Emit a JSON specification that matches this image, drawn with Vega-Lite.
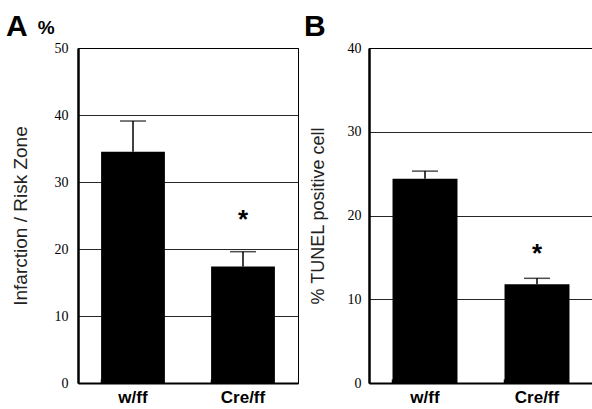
{
  "$schema": "https://vega.github.io/schema/vega-lite/v6.json",
  "background": "white",
  "padding": {"left": 5, "top": 11, "right": 0, "bottom": 0},
  "spacing": 4,
  "config": {
    "view": {"stroke": "black", "strokeWidth": 1},
    "axis": {"labelFont": "Liberation Sans Narrow", "titleFont": "Liberation Sans", "labelColor": "black", "titleColor": "#222"},
    "title": {"font": "Liberation Sans", "fontWeight": "bold", "fontSize": 30, "anchor": "start", "frame": "bounds", "color": "black", "subtitleFont": "Liberation Sans", "subtitleFontWeight": "bold", "subtitleFontSize": 19, "subtitleColor": "black"}
  },
  "datasets": {
    "a": [
      {"group": "w/ff", "value": 34.5, "hi": 39.1},
      {"group": "Cre/ff", "value": 17.4, "hi": 19.6}
    ],
    "b": [
      {"group": "w/ff", "value": 24.4, "hi": 25.3},
      {"group": "Cre/ff", "value": 11.8, "hi": 12.5}
    ],
    "starA": [{"group": "Cre/ff", "y": 25.0, "label": "*"}],
    "starB": [{"group": "Cre/ff", "y": 15.9, "label": "*"}]
  },
  "hconcat": [
    {
      "title": {"text": "A", "subtitle": "\u200b\u00a0\u00a0\u00a0\u00a0\u00a0\u00a0%", "subtitlePadding": -23, "dx": -5, "offset": -1},
      "width": 220,
      "height": 335,
      "data": {"name": "a"},
      "encoding": {
        "x": {"field": "group", "type": "nominal", "sort": ["w/ff", "Cre/ff"],
          "scale": {"paddingInner": 0.42, "paddingOuter": 0.21},
          "axis": {"title": null, "labelAngle": 0, "labelFont": "Liberation Sans", "labelFontWeight": "bold", "labelFontSize": 17, "labelPadding": 10, "bandPosition": 0, "tickSize": -4, "tickColor": "black", "tickWidth": 1.5, "domainColor": "black", "domainWidth": 2}}
      },
      "layer": [
        {
          "mark": {"type": "bar", "color": "black"},
          "encoding": {
            "y": {"field": "value", "type": "quantitative", "scale": {"domain": [0, 50]},
              "axis": {"title": "Infarction / Risk Zone", "titleFontSize": 19, "titleFontWeight": "normal", "titlePadding": 24, "values": [0, 10, 20, 30, 40, 50], "labelFontSize": 14, "ticks": false, "labelPadding": 10, "domainColor": "black", "domainWidth": 2.5, "grid": true, "gridColor": "black", "gridWidth": 1, "gridOpacity": 0.85}}
          }
        },
        {
          "mark": {"type": "rule", "color": "black", "strokeWidth": 1.5},
          "encoding": {"y": {"field": "value", "type": "quantitative"}, "y2": {"field": "hi"}}
        },
        {
          "mark": {"type": "tick", "color": "black", "thickness": 1.5, "size": 26},
          "encoding": {"y": {"field": "hi", "type": "quantitative"}}
        },
        {
          "data": {"name": "starA"},
          "mark": {"type": "text", "fontSize": 26, "fontWeight": "bold", "font": "Liberation Sans", "baseline": "middle", "dy": 4},
          "encoding": {"y": {"field": "y", "type": "quantitative"}, "text": {"field": "label"}}
        }
      ]
    },
    {
      "title": {"text": "B", "dx": -5, "offset": -1},
      "width": 224,
      "height": 335,
      "data": {"name": "b"},
      "encoding": {
        "x": {"field": "group", "type": "nominal", "sort": ["w/ff", "Cre/ff"],
          "scale": {"paddingInner": 0.42, "paddingOuter": 0.21},
          "axis": {"title": null, "labelAngle": 0, "labelFont": "Liberation Sans", "labelFontWeight": "bold", "labelFontSize": 17, "labelPadding": 10, "bandPosition": 0, "tickSize": -4, "tickColor": "black", "tickWidth": 1.5, "domainColor": "black", "domainWidth": 2}}
      },
      "layer": [
        {
          "mark": {"type": "bar", "color": "black"},
          "encoding": {
            "y": {"field": "value", "type": "quantitative", "scale": {"domain": [0, 40]},
              "axis": {"title": "% TUNEL positive cell", "titleFontSize": 18, "titleFontWeight": "normal", "titlePadding": 20, "values": [0, 10, 20, 30, 40], "labelFontSize": 14, "ticks": false, "labelPadding": 8, "domainColor": "black", "domainWidth": 2.5, "grid": true, "gridColor": "black", "gridWidth": 1, "gridOpacity": 0.85}}
          }
        },
        {
          "mark": {"type": "rule", "color": "black", "strokeWidth": 1.5},
          "encoding": {"y": {"field": "value", "type": "quantitative"}, "y2": {"field": "hi"}}
        },
        {
          "mark": {"type": "tick", "color": "black", "thickness": 1.5, "size": 26},
          "encoding": {"y": {"field": "hi", "type": "quantitative"}}
        },
        {
          "data": {"name": "starB"},
          "mark": {"type": "text", "fontSize": 26, "fontWeight": "bold", "font": "Liberation Sans", "baseline": "middle", "dy": 4},
          "encoding": {"y": {"field": "y", "type": "quantitative"}, "text": {"field": "label"}}
        }
      ]
    }
  ]
}
